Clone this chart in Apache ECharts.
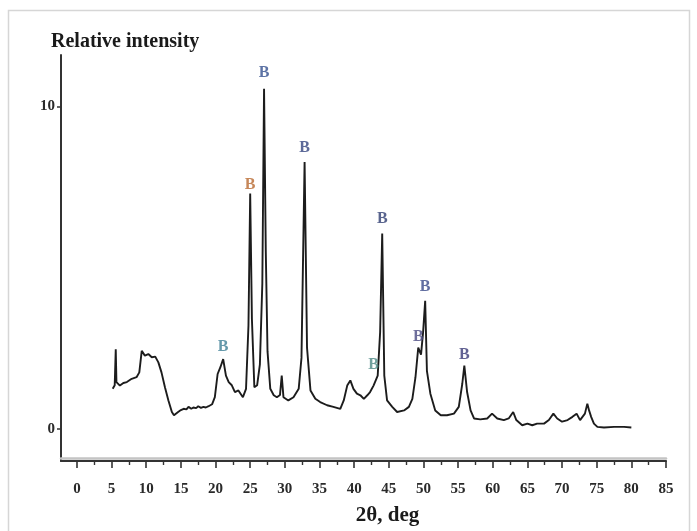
<!DOCTYPE html>
<html>
<head>
<meta charset="utf-8">
<script src="https://cdn.jsdelivr.net/npm/echarts@6/dist/echarts.min.js"></script>
<style>
  html, body { margin: 0; padding: 0; background: #fff; }
  #chart { width: 697px; height: 531px; }
</style>
</head>
<body>
<div id="chart"></div>
<script>
// XRD pattern: diffraction angle 2θ (deg) and relative intensity
const twoTheta = [
  5.16, 5.45, 5.6, 5.7, 6.2, 6.7, 7.2, 7.9, 8.6, 9.0, 9.35, 9.8, 10.3, 10.8, 11.3, 11.75,
  12.2, 12.7, 13.2, 13.7, 14.0, 14.6, 15.0, 15.4, 15.8, 16.1, 16.5, 16.8, 17.2, 17.5, 17.9,
  18.25, 18.6, 19.0, 19.5, 19.9, 20.3, 20.7, 21.1, 21.5, 21.9, 22.35, 22.8, 23.3, 23.95,
  24.4, 24.75, 25.0, 25.25, 25.6, 26.0, 26.4, 26.75, 27.0, 27.25, 27.5, 27.9, 28.4, 28.85,
  29.3, 29.55, 29.8, 30.5, 31.25, 32.0, 32.4, 32.85, 33.2, 33.7, 34.4, 35.1, 36.1, 37.0,
  38.0, 38.5, 39.0, 39.45, 39.9, 40.4, 40.9, 41.4, 41.9, 42.3, 42.8, 43.4, 43.75, 44.05,
  44.35, 44.75, 45.5, 46.2, 47.2, 47.9, 48.4, 48.85, 49.25, 49.65, 49.95, 50.25, 50.5,
  51.0, 51.7, 52.5, 53.4, 54.4, 55.1, 55.6, 55.9, 56.3, 56.8, 57.3, 58.2, 59.2, 59.9,
  60.65, 61.6, 62.3, 62.95, 63.4, 64.25, 65.0, 65.7, 66.4, 67.4, 68.1, 68.75, 69.3, 70.0,
  70.8, 71.5, 72.1, 72.6, 73.3, 73.65, 73.9, 74.2, 74.6, 75.1, 76.05, 77.5, 78.95, 80.0
];
const intensity = [
  1.24, 1.35, 2.47, 1.45, 1.34, 1.42, 1.45, 1.55, 1.6, 1.75, 2.42, 2.27, 2.32, 2.22, 2.24, 2.06,
  1.75, 1.29, 0.88, 0.52, 0.42, 0.52, 0.58, 0.62, 0.6, 0.68, 0.62, 0.66, 0.64, 0.70, 0.65,
  0.68, 0.66, 0.70, 0.76, 0.98, 1.70, 1.91, 2.16, 1.65, 1.45, 1.35, 1.14, 1.19, 0.98,
  1.24, 3.2, 7.3, 3.4, 1.29, 1.35, 2.0, 4.5, 10.55, 5.5, 2.4, 1.24, 1.04, 0.98,
  1.05, 1.65, 0.98, 0.88, 0.98, 1.24, 2.2, 8.28, 2.52, 1.19, 0.93, 0.83, 0.73, 0.68,
  0.62, 0.88, 1.34, 1.50, 1.24, 1.09, 1.04, 0.93, 1.04, 1.14, 1.34, 1.65, 3.0, 6.06,
  1.65, 0.88, 0.68, 0.52, 0.57, 0.68, 0.93, 1.6, 2.52, 2.3, 3.0, 3.97, 1.8,
  1.09, 0.57, 0.42, 0.42, 0.47, 0.68, 1.39, 1.96, 1.14, 0.57, 0.32, 0.29, 0.32, 0.47,
  0.32, 0.27, 0.32, 0.52, 0.27, 0.11, 0.16, 0.11, 0.16, 0.16, 0.27, 0.47, 0.32, 0.22,
  0.27, 0.37, 0.47, 0.27, 0.47, 0.78, 0.57, 0.37, 0.16, 0.06, 0.04, 0.06, 0.06, 0.04
];

// Reflections marked with the phase letter
const peakAngles = [21.1, 25.0, 27.0, 32.85, 42.8, 44.05, 49.25, 50.25, 55.9];
const peakPhase  = ['B', 'B', 'B', 'B', 'B', 'B', 'B', 'B', 'B'];
const peakColors = ['#3f7f96', '#b8692f', '#34508f', '#34457f', '#4d8a86', '#2f3d72', '#4a4a82', '#3a4a8a', '#3b3b78'];
const peakGaps   = [4, 1, 8, 6, 13, 7, 3, 6, 3];

// Axis ticks
const xMajorTicks = [0, 5, 10, 15, 20, 25, 30, 35, 40, 45, 50, 55, 60, 65, 70, 75, 80, 85];
const xMinorTicks = [2.5, 7.5, 12.5, 17.5, 22.5, 27.5, 32.5, 37.5, 42.5, 47.5, 52.5, 57.5, 62.5, 67.5, 72.5, 77.5, 82.5];
const yTicks = [0, 10];

const profile = twoTheta.map((t, i) => [t, intensity[i]]);
const peakPoints = peakAngles.map((t, i) => ({
  value: [t, intensity[twoTheta.indexOf(t)]],
  label: { color: peakColors[i], distance: peakGaps[i], formatter: peakPhase[i] }
}));

const serif = "'Liberation Serif', 'Times New Roman', serif";
const xMin = -2.3, xMax = 85;

const chart = echarts.init(document.getElementById('chart'), null, { renderer: 'canvas' });
chart.setOption({
  animation: false,
  backgroundColor: '#ffffff',
  graphic: [{
    type: 'rect',
    shape: { x: 8.5, y: 10.5, width: 681, height: 540 },
    style: { fill: 'none', stroke: '#d6d6d6', lineWidth: 1.5 },
    silent: true
  }],
  grid: { left: 61, right: 31, top: 55, bottom: 66 },
  xAxis: [
    {
      type: 'value', min: xMin, max: xMax,
      axisLine: { show: true, onZero: false, lineStyle: { color: '#333', width: 2.2 } },
      axisTick: { show: true, customValues: xMajorTicks, length: 7, lineStyle: { color: '#333', width: 1.6 } },
      axisLabel: { show: true, customValues: xMajorTicks, margin: 21, color: '#2a2a2a', fontFamily: serif, fontSize: 15, fontWeight: 'bold' },
      splitLine: { show: false },
      name: '2θ, deg', nameLocation: 'middle', nameGap: 44,
      nameTextStyle: { color: '#1a1a1a', fontFamily: serif, fontSize: 21, fontWeight: 'bold', padding: [0, 0, 0, 48] }
    },
    {
      type: 'value', min: xMin, max: xMax, position: 'bottom',
      axisLine: { show: false, onZero: false },
      axisTick: { show: true, customValues: xMinorTicks, length: 4, lineStyle: { color: '#333', width: 1.4 } },
      axisLabel: { show: false },
      splitLine: { show: false }
    },
    {
      type: 'value', min: xMin, max: xMax, position: 'bottom', offset: -3,
      axisLine: { show: true, onZero: false, lineStyle: { color: '#c4c4c4', width: 2.5 } },
      axisTick: { show: false }, axisLabel: { show: false }, splitLine: { show: false }
    }
  ],
  yAxis: {
    type: 'value', min: -1, max: 11.6,
    axisLine: { show: true, onZero: false, lineStyle: { color: '#333', width: 2 } },
    axisTick: { show: true, customValues: yTicks, length: 4, lineStyle: { color: '#333', width: 1.5 } },
    axisLabel: { show: true, customValues: yTicks, margin: 6, color: '#2a2a2a', fontFamily: serif, fontSize: 15, fontWeight: 'bold' },
    splitLine: { show: false },
    name: 'Relative intensity', nameLocation: 'end', nameGap: 3,
    nameTextStyle: { color: '#1a1a1a', fontFamily: serif, fontSize: 20, fontWeight: 'bold', align: 'left', padding: [0, 0, 0, -10] }
  },
  series: [
    {
      type: 'line', data: profile, xAxisIndex: 0,
      showSymbol: false, symbol: 'none',
      lineStyle: { color: '#1c1c1c', width: 1.9 },
      z: 3
    },
    {
      type: 'scatter', data: peakPoints, xAxisIndex: 0,
      symbolSize: 0, silent: true,
      label: {
        show: true, position: 'top',
        fontFamily: "'Liberation Sans Narrow', 'Liberation Serif', serif",
        fontWeight: 'bold', fontSize: 16
      },
      z: 4
    }
  ]
});
</script>
</body>
</html>
